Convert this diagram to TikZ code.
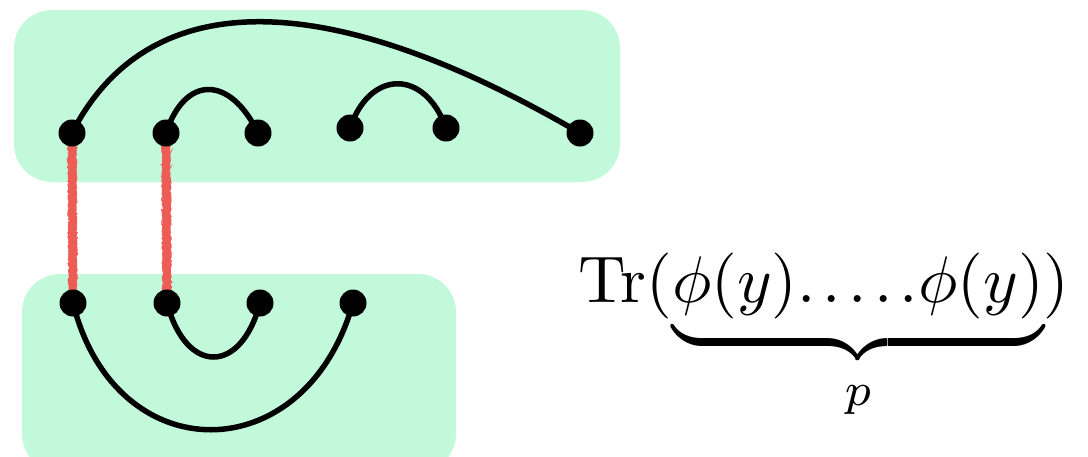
\documentclass[tikz,border=0pt]{standalone}
\usetikzlibrary{decorations.pathmorphing}
\definecolor{boxgreen}{HTML}{C2F9DB}
\definecolor{linkred}{HTML}{EE5C56}
\tikzset{
  grbox/.style={fill=boxgreen, draw=none, rounded corners=38pt},
  dotnode/.style={circle, fill=black, inner sep=0pt, minimum size=27pt},
  arcline/.style={line width=5.5pt, black},
  redlink/.style={line width=8pt, linkred, decorate, decoration={random steps, segment length=2pt, amplitude=0.7pt}},
  redfuzz/.style={line width=1.3pt, linkred, decorate, decoration={random steps, segment length=1.5pt, amplitude=1.2pt}},
}
\begin{document}
\begin{tikzpicture}[x=1pt,y=-1pt]
\useasboundingbox (0,0) rectangle (1088,456);
\clip (0,0) rectangle (1088,456);
% boxes
\path[grbox] (14,10) rectangle (620,182);
\path[grbox] (22,274) rectangle (456,472);
% dot positions
\coordinate (t1) at (72,133);
\coordinate (t2) at (166,133);
\coordinate (t3) at (258,133);
\coordinate (t4) at (350,128);
\coordinate (t5) at (446,128);
\coordinate (t6) at (580,133);
\coordinate (b1) at (73,303);
\coordinate (b2) at (167,303);
\coordinate (b3) at (260,303);
\coordinate (b4) at (353,303);
% red links
\draw[redlink] (t1) -- (b1);
\draw[redlink] (t2) -- (b2);
\draw[redfuzz] ([xshift=-3.5pt]t1) -- ([xshift=-3.5pt]b1);
\draw[redfuzz] ([xshift=3.5pt]t1) -- ([xshift=3.5pt]b1);
\draw[redfuzz] ([xshift=-3.5pt]t2) -- ([xshift=-3.5pt]b2);
\draw[redfuzz] ([xshift=3.5pt]t2) -- ([xshift=3.5pt]b2);
% arcs top
\draw[arcline] (t1) .. controls (140,0) and (300,-30) .. (t6);
\draw[arcline] (t2) .. controls (185,75) and (230,75) .. (t3);
\draw[arcline] (t4) .. controls (370,69) and (425,69) .. (t5);
% arcs bottom
\draw[arcline] (b2) .. controls (186,375) and (241,375) .. (b3);
\draw[arcline] (b1) .. controls (115,472) and (305,472) .. (b4);
% dots
\foreach \n in {t1,t2,t3,t4,t5,t6,b1,b2,b3,b4}
  \node[dotnode] (d\n) at (\n) {};
% formula
\node[anchor=base west, inner sep=0pt, scale=6.6] (formula) at (577,302)
  {$\mathrm{Tr}(\underbrace{\phi(y).\mkern2mu.\mkern2mu.\mkern2mu.\mkern2mu.\phi(y)}_{p})$};
\end{tikzpicture}
\end{document}
